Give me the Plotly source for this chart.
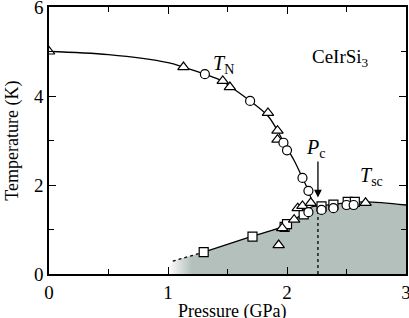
import plotly.graph_objects as go

# --- data ---
tri_P = [0.0, 1.13, 1.46, 1.52, 1.84, 1.92, 1.92, 1.93, 1.96, 2.06, 2.09, 2.13, 2.20, 2.66]
tri_T = [5.0, 4.65, 4.34, 4.20, 3.62, 3.22, 3.02, 0.65, 1.03, 1.22, 1.48, 1.53, 1.60, 1.60]

cir_P = [1.31, 1.69, 1.97, 2.00, 2.13, 2.18, 2.18, 2.29, 2.39, 2.50, 2.56]
cir_T = [4.49, 3.89, 2.95, 2.78, 2.16, 1.87, 1.39, 1.44, 1.48, 1.55, 1.55]

sq_P = [1.30, 1.71, 1.98, 2.00, 2.14, 2.29, 2.39, 2.51, 2.57]
sq_T = [0.49, 0.84, 1.06, 1.12, 1.34, 1.52, 1.56, 1.62, 1.62]

tn_line_P = [0.0, 0.5, 1.0, 1.13, 1.31, 1.46, 1.52, 1.69, 1.84, 1.92, 1.98, 2.06, 2.13, 2.18, 2.21]
tn_line_T = [5.0, 4.93, 4.75, 4.65, 4.49, 4.33, 4.22, 3.89, 3.55, 3.22, 2.92, 2.55, 2.16, 1.87, 1.62]

tsc_line_P = [1.30, 1.71, 1.98, 2.07, 2.14, 2.20, 2.29, 2.50, 2.66, 3.0]
tsc_line_T = [0.49, 0.85, 1.08, 1.24, 1.36, 1.50, 1.53, 1.60, 1.62, 1.55]

tsc_dot_P = [1.04, 1.30]
tsc_dot_T = [0.29, 0.49]

pc_P = 2.26
pc_T = [0.0, 1.50]

fig = go.Figure()

# shaded superconducting region
fill_P = [1.0] + tsc_dot_P + tsc_line_P[1:] + [3.0, 1.0]
fill_T = [0.0] + tsc_dot_T + tsc_line_T[1:] + [0.0, 0.0]
fig.add_trace(go.Scatter(
    x=fill_P, y=fill_T, mode="none", fill="toself",
    fillgradient=dict(type="horizontal", start=1.0, stop=3.0,
                      colorscale=[[0, "rgba(180,192,188,0)"], [0.1, "rgb(180,192,188)"], [1, "rgb(180,192,188)"]]),
    hoverinfo="skip", showlegend=False))

line_style = dict(color="black", width=1.3)
fig.add_trace(go.Scatter(x=tn_line_P, y=tn_line_T, mode="lines", line=dict(shape="spline", **line_style), showlegend=False))
fig.add_trace(go.Scatter(x=tsc_line_P, y=tsc_line_T, mode="lines", line=dict(shape="spline", **line_style), showlegend=False))
fig.add_trace(go.Scatter(x=tsc_dot_P, y=tsc_dot_T, mode="lines", line=dict(color="black", width=1.3, dash="dot"), showlegend=False))
fig.add_trace(go.Scatter(x=[pc_P, pc_P], y=pc_T, mode="lines", line=dict(color="black", width=1.3, dash="dot"), showlegend=False))

mk = dict(color="white", line=dict(color="black", width=1.2))
fig.add_trace(go.Scatter(x=sq_P, y=sq_T, mode="markers", marker=dict(symbol="square", size=9, **mk), showlegend=False))
fig.add_trace(go.Scatter(x=tri_P, y=tri_T, mode="markers", marker=dict(symbol="triangle-up", size=10, **mk), showlegend=False))
fig.add_trace(go.Scatter(x=cir_P, y=cir_T, mode="markers", marker=dict(symbol="circle", size=9, **mk), showlegend=False))

font = "Liberation Serif, Times New Roman, serif"
fig.add_annotation(x=pc_P, y=1.72, ax=pc_P, ay=2.56, xref="x", yref="y", axref="x", ayref="y",
                   showarrow=True, arrowhead=2, arrowsize=1.2, arrowwidth=1.3, arrowcolor="black", text="")
fig.add_annotation(x=1.47, y=4.7, text="<i>T</i><sub>N</sub>", showarrow=False, font=dict(family=font, size=20, color="black"))
fig.add_annotation(x=2.24, y=2.83, text="<i>P</i><sub>c</sub>", showarrow=False, font=dict(family=font, size=20, color="black"))
fig.add_annotation(x=2.71, y=2.2, text="<i>T</i><sub>sc</sub>", showarrow=False, font=dict(family=font, size=20, color="black"))
fig.add_annotation(x=2.45, y=4.85, text="CeIrSi<sub>3</sub>", showarrow=False, font=dict(family=font, size=19, color="black"))
# axis titles
fig.add_annotation(x=-0.103, y=0.5, xref="paper", yref="paper", xanchor="center", yanchor="middle",
                   text="Temperature (K)", textangle=-90, showarrow=False,
                   font=dict(family=font, size=18, color="black"))
fig.add_annotation(x=0.513, y=-0.14, xref="paper", yref="paper", xanchor="center", yanchor="middle",
                   text="Pressure (GPa)", showarrow=False,
                   font=dict(family=font, size=18, color="black"))

axis_common = dict(showline=True, linecolor="black", linewidth=1.5, mirror="allticks",
                   ticks="inside", ticklen=7, tickwidth=1.2, tickcolor="black",
                   showgrid=False, zeroline=False, automargin=False, ticklabeloverflow="allow",
                   tickfont=dict(family=font, size=19, color="black"),
                   minor=dict(ticks="inside", ticklen=5, tickwidth=1.2, tickcolor="black", showgrid=False))

fig.update_xaxes(range=[0, 3], tickvals=[0, 1, 2, 3], minor_dtick=0.5, **axis_common)
fig.update_yaxes(range=[0, 6], tickvals=[0, 2, 4, 6], minor_dtick=1, **axis_common)

fig.update_layout(width=409, height=318, margin=dict(l=49, r=3, t=7, b=44),
                  plot_bgcolor="white", paper_bgcolor="white")

fig.write_html("out.html", config={"displayModeBar": False},
               post_script="document.body.style.margin='0';document.body.style.overflow='hidden';")
